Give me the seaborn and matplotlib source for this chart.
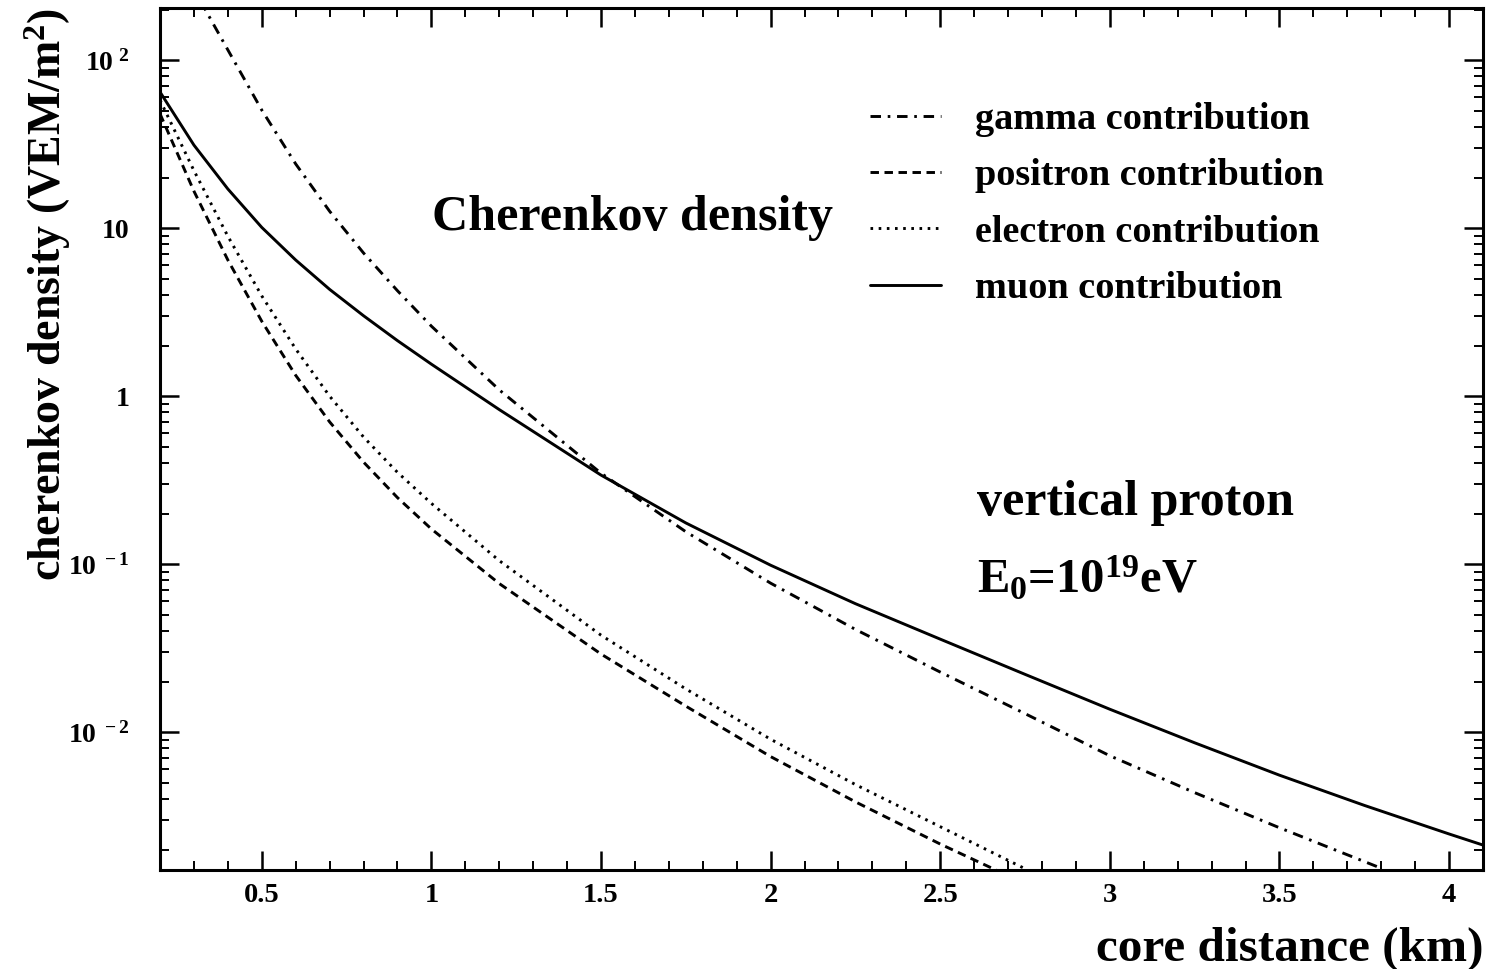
import numpy as np
import pandas as pd
import matplotlib
matplotlib.use("Agg")
import matplotlib.pyplot as plt
from matplotlib.ticker import MultipleLocator, LogLocator, FixedLocator, FixedFormatter, FuncFormatter, NullFormatter
import seaborn as sns

# ---------------- data ----------------
muon_x = [0.2, 0.3, 0.4, 0.5, 0.6, 0.7, 0.8, 0.9, 1.0, 1.2, 1.5, 1.75, 2.0, 2.25,
          2.5, 2.75, 3.0, 3.25, 3.5, 3.75, 4.0, 4.1]
muon_y = [64.6, 31.2, 17.1, 10.1, 6.46, 4.32, 3.01, 2.14, 1.55, 0.832, 0.339, 0.176,
          0.0986, 0.0582, 0.0358, 0.0221, 0.0137, 0.00865, 0.00555, 0.00367,
          0.00248, 0.00213]

gamma_x = [0.32, 0.35, 0.4, 0.45, 0.5, 0.6, 0.7, 0.8, 0.9, 1.0, 1.2, 1.5, 1.75,
           2.0, 2.25, 2.5, 2.75, 3.0, 3.25, 3.5, 3.75, 3.8]
gamma_y = [224, 174, 115, 76.2, 50.4, 24.1, 12.6, 7.11, 4.24, 2.61, 1.09, 0.348,
           0.156, 0.0771, 0.0409, 0.0228, 0.0129, 0.00724, 0.00437, 0.00270,
           0.00170, 0.00155]

electron_x = [0.2, 0.3, 0.4, 0.5, 0.6, 0.7, 0.8, 0.9, 1.0, 1.2, 1.5, 1.75, 2.0,
              2.25, 2.5, 2.75]
electron_y = [57.8, 22.0, 8.95, 3.95, 1.91, 1.00, 0.571, 0.352, 0.230, 0.105,
              0.0378, 0.0181, 0.00908, 0.00488, 0.00274, 0.00154]

positron_x = [0.2, 0.3, 0.4, 0.5, 0.6, 0.7, 0.8, 0.9, 1.0, 1.2, 1.5, 1.75, 2.0,
              2.25, 2.5, 2.7]
positron_y = [47.9, 16.6, 6.46, 2.79, 1.33, 0.703, 0.405, 0.249, 0.162, 0.0767,
              0.0292, 0.0143, 0.00716, 0.00385, 0.00216, 0.00140]

legend_labels = ["gamma contribution", "positron contribution",
                 "electron contribution", "muon contribution"]
ytick_values = [1e-2, 1e-1, 1, 10, 100]
ytick_labels = [r"$10^{\ -2}$", r"$10^{\ -1}$", "1", "10", r"$10^{\ 2}$"]
xtick_values = [0.5, 1, 1.5, 2, 2.5, 3, 3.5, 4]

# ---------------- style ----------------
sns.set_theme(style="ticks")
plt.rcParams["font.family"] = ["Liberation Serif", "DejaVu Serif"]
plt.rcParams["font.weight"] = "bold"
plt.rcParams["mathtext.fontset"] = "custom"
plt.rcParams["mathtext.rm"] = "Liberation Serif:bold"
plt.rcParams["mathtext.it"] = "Liberation Serif:bold"
plt.rcParams["mathtext.bf"] = "Liberation Serif:bold"
plt.rcParams["axes.unicode_minus"] = True
for k in ["text.color", "axes.labelcolor", "xtick.color", "ytick.color", "axes.edgecolor"]:
    plt.rcParams[k] = "black"

fig = plt.figure(figsize=(14.87, 9.69), dpi=100)
fig.patch.set_facecolor("white")
ax = fig.add_axes([160 / 1487, 99 / 969, 1323 / 1487, 862 / 969])
ax.set_facecolor("white")

lw = 2.1
series = [
    (gamma_x, gamma_y, (0, (3.6, 2.3, 0.9, 2.3)), legend_labels[0]),
    (positron_x, positron_y, (0, (2.9, 1.9)), legend_labels[1]),
    (electron_x, electron_y, (0, (0.9, 1.9)), legend_labels[2]),
    (muon_x, muon_y, "-", legend_labels[3]),
]
for xs, ys, ls, lab in series:
    df = pd.DataFrame({"x": xs, "y": ys})
    sns.lineplot(data=df, x="x", y="y", ax=ax, color="black", linestyle=ls,
                 linewidth=lw, label=lab, estimator=None, sort=False)

ax.set_yscale("log")
ax.set_xlim(0.2, 4.1)
ax.set_ylim(10 ** -2.82, 10 ** 2.31)

# ticks
ax.xaxis.set_major_locator(FixedLocator(xtick_values))
ax.xaxis.set_major_formatter(FuncFormatter(lambda v, p: "%g" % v))
ax.xaxis.set_minor_locator(MultipleLocator(0.1))
ax.yaxis.set_major_locator(FixedLocator(ytick_values))
ax.yaxis.set_major_formatter(FixedFormatter(ytick_labels))
ax.yaxis.set_minor_locator(LogLocator(base=10, subs=np.arange(2, 10), numticks=20))
ax.yaxis.set_minor_formatter(NullFormatter())

ax.tick_params(which="both", direction="in", top=True, right=True, colors="black")
ax.tick_params(which="major", length=14, width=1.8)
ax.tick_params(which="minor", length=6.5, width=1.4)
ax.tick_params(axis="x", which="major", labelsize=20.5, pad=9)
ax.tick_params(axis="y", which="major", labelsize=20, pad=22)
for lab in ax.get_xticklabels() + ax.get_yticklabels():
    lab.set_fontweight("bold")

for sp in ax.spines.values():
    sp.set_linewidth(2.2)
    sp.set_color("black")

# axis titles
ax.set_xlabel("core distance (km)", fontsize=35.5, fontweight="bold")
ax.xaxis.set_label_coords(1.0, -0.066)
ax.xaxis.label.set_horizontalalignment("right")
ax.set_ylabel(r"cherenkov density (VEM/m$^2$)", fontsize=33, fontweight="bold")
ax.yaxis.set_label_coords(-0.066, 1.0)
ax.yaxis.label.set_horizontalalignment("right")

# annotations
ax.text((432 - 160) / 1323, (870 - 230) / 862, "Cherenkov density",
        transform=ax.transAxes, fontsize=36, fontweight="bold",
        ha="left", va="baseline")
ax.text((977 - 160) / 1323, (870 - 515) / 862, "vertical proton",
        transform=ax.transAxes, fontsize=36, fontweight="bold",
        ha="left", va="baseline")
ax.text((977 - 160) / 1323, (870 - 593) / 862, r"E$_0$=10$^{19}$eV",
        transform=ax.transAxes, fontsize=35, fontweight="bold",
        ha="left", va="baseline")

leg = ax.legend(loc="upper left", bbox_to_anchor=((870 - 160) / 1323, (870 - 102) / 862),
                frameon=False, fontsize=27.5, handlelength=1.85, handletextpad=0.9,
                labelspacing=0.56, borderpad=0, borderaxespad=0)
for t in leg.get_texts():
    t.set_fontweight("bold")

fig.savefig("out.png", dpi=100, facecolor="white")
